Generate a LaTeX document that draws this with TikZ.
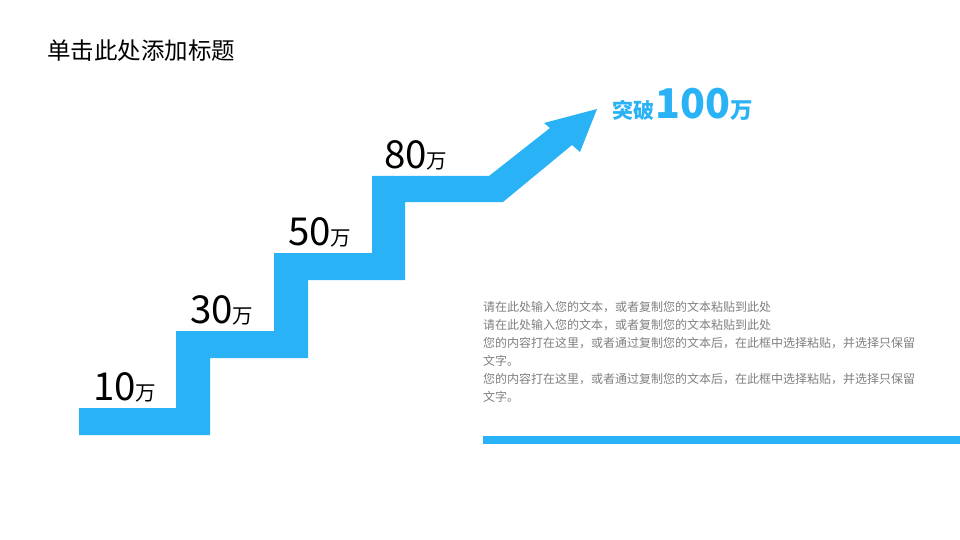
\documentclass[tikz,border=0pt]{standalone}
\usepackage{fontspec}
\setmainfont{Noto Sans CJK SC}
\definecolor{stairblue}{RGB}{42,178,247}
\definecolor{bodygray}{RGB}{128,128,128}
\begin{document}
\begin{tikzpicture}[x=1pt,y=-1pt,
  lbl/.style={anchor=base west,inner sep=0pt,text=black},
  body/.style={anchor=base west,inner sep=0pt,text=bodygray,font=\fontsize{12}{12}\selectfont}]
\useasboundingbox[fill=white] (0,0) rectangle (960,540);
% title
\node[lbl,font=\fontsize{23.5}{23.5}\selectfont] (title) at (47,60) {单击此处添加标题};
% stair arrow
\fill[stairblue] (79,435) -- (210,435) -- (210,358) -- (308,358) -- (308,280) -- (405,280)
  -- (405,202) -- (503,202) -- (572,145) -- (580,152) -- (597,109) -- (544,123) -- (550,128)
  -- (489,176) -- (372,176) -- (372,253) -- (274,253) -- (274,331) -- (176,331) -- (176,408)
  -- (79,408) -- cycle;
% step labels
\node[lbl] (l10) at (93,400) {\fontsize{38.5}{38.5}\selectfont 10\fontsize{20.5}{20.5}\selectfont 万};
\node[lbl] (l30) at (190,323) {\fontsize{38.5}{38.5}\selectfont 30\fontsize{20.5}{20.5}\selectfont 万};
\node[lbl] (l50) at (288,245) {\fontsize{38.5}{38.5}\selectfont 50\fontsize{20.5}{20.5}\selectfont 万};
\node[lbl] (l80) at (384,169) {\fontsize{38.5}{38.5}\selectfont 80\fontsize{20.5}{20.5}\selectfont 万};
% goal label
\node[lbl,text=stairblue,font=\bfseries] (goal) at (612,119)
  {\fontsize{21}{21}\selectfont 突破\hspace{1.5pt}\fontsize{41}{41}\selectfont 100\fontsize{22.5}{22.5}\selectfont 万};
% body text
\node[body] (t1) at (483,311.5) {请在此处输入您的文本，或者复制您的文本粘贴到此处};
\node[body] (t2) at (483,329.5) {请在此处输入您的文本，或者复制您的文本粘贴到此处};
\node[body] (t3) at (483,347.5) {您的内容打在这里，或者通过复制您的文本后，在此框中选择粘贴，并选择只保留};
\node[body] (t4) at (483,365) {文字。};
\node[body] (t5) at (483,383) {您的内容打在这里，或者通过复制您的文本后，在此框中选择粘贴，并选择只保留};
\node[body] (t6) at (483,401.5) {文字。};
% bar
\fill[stairblue] (483,436) rectangle (960,444);
\end{tikzpicture}
\end{document}
